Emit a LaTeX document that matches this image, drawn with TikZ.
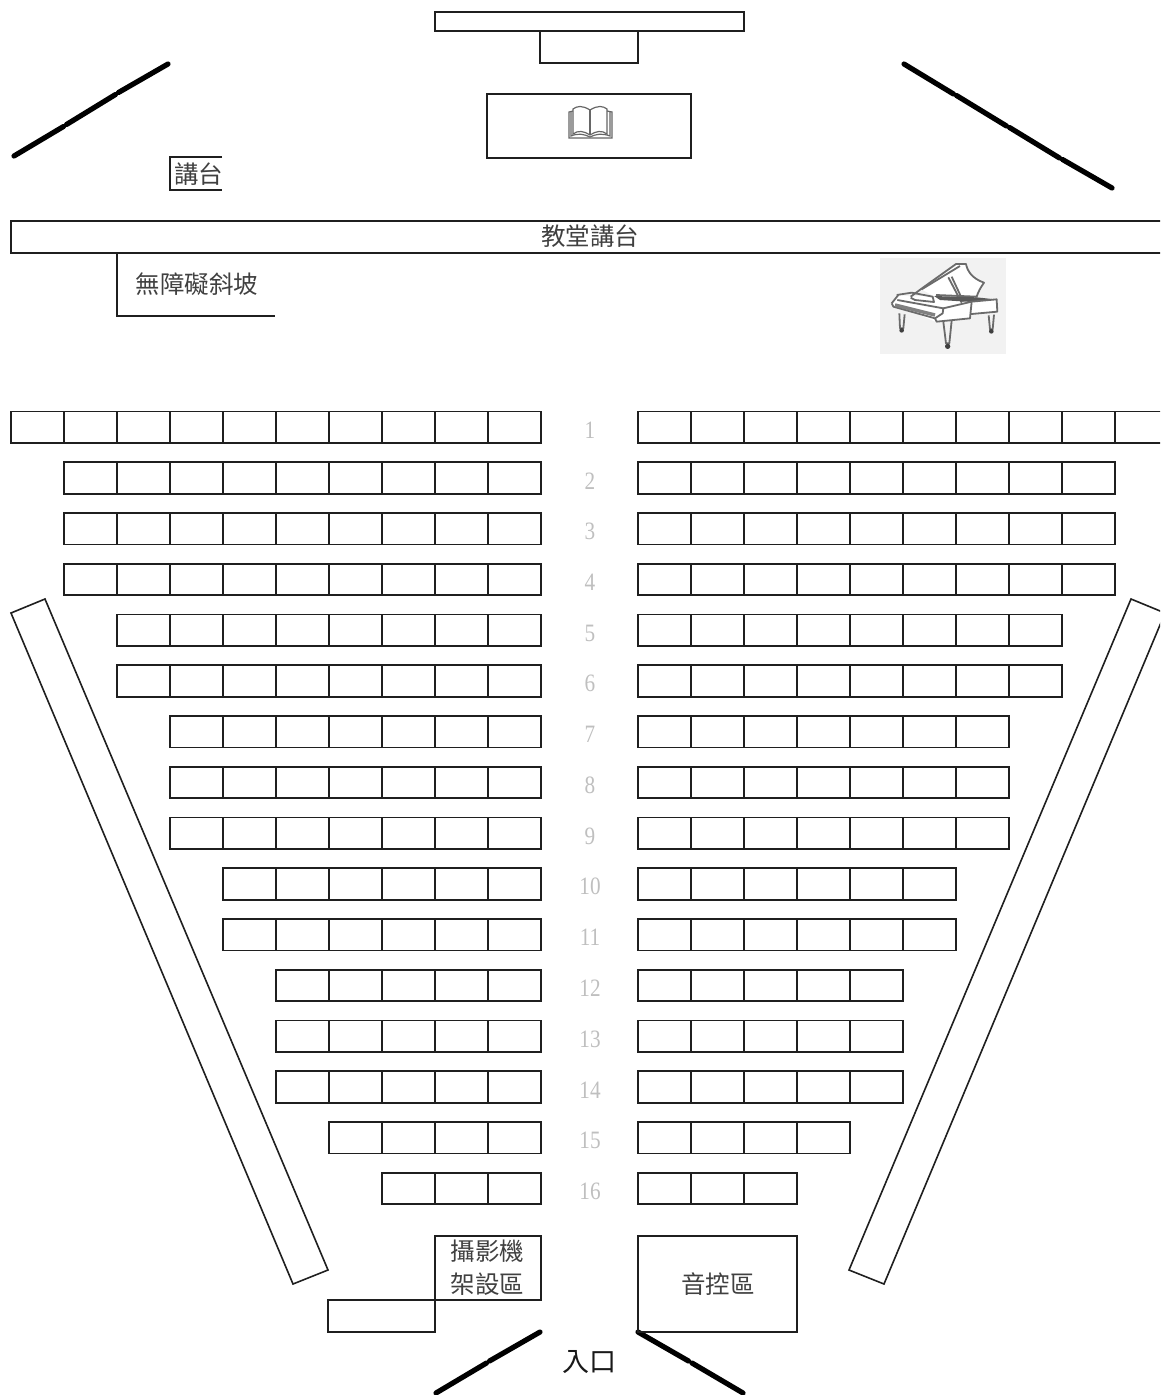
\documentclass[tikz,border=0pt]{standalone}
\usepackage{fontspec}
\setmainfont{Liberation Serif}
\newfontfamily\cjk{Noto Sans CJK TC}[Scale=1.0]
\begin{document}
\begin{tikzpicture}[x=1pt,y=-1pt,
  line join=miter,
  box/.style={draw=black!88,line width=2pt},
  thin box/.style={draw=black!88,line width=1.9pt},
  aisle/.style={draw=black!88,line width=1.6pt},
  wall/.style={draw=black,line width=5.2pt,line cap=round},
  label/.style={font=\cjk\fontsize{24.5}{24.5}\selectfont,text=black!75,inner sep=0pt},
  num/.style={font=\fontsize{25}{25}\selectfont,text=black!25,inner sep=0pt,xscale=.85}]
\useasboundingbox (0,0) rectangle (1160,1395);
\clip (0,0) rectangle (1160,1395);
% altar furniture
\draw[box] (435,12) rectangle (744,31);
\draw[box] (540,31) rectangle (638,63);
\draw[box] (487,94) rectangle (691,158);
% book
\begin{scope}[draw=black!60,line width=1.2pt]
\draw (590,110) .. controls (582,105) and (577,106) .. (573,109) -- (573,134) .. controls (578,130) and (584,131) .. (590,135);
\draw (590,110) .. controls (598,105) and (603,106) .. (607,109) -- (607,134) .. controls (602,130) and (596,131) .. (590,135);
\draw (590,110) -- (590,135);
\draw (573,111) -- (569,112) -- (569,138) -- (612,138) -- (612,112) -- (607,111);
\draw (571,111) -- (571,136) .. controls (578,133) and (584,134) .. (590,137) .. controls (596,134) and (602,133) .. (610,136) -- (610,111);
\end{scope}
% stage walls
\draw[wall] (14,156) -- (63.5,126.5);
\draw[wall] (66.5,124.5) -- (115.5,94.5);
\draw[wall] (118.5,92.5) -- (168,64);
\draw[wall] (904,64) -- (953.5,94);
\draw[wall] (956.5,95.5) -- (1006.5,126);
\draw[wall] (1009.5,127.5) -- (1059.5,158);
\draw[wall] (1062.5,159.5) -- (1112,188);
\draw[wall] (436,1393) -- (486.5,1363);
\draw[wall] (489.5,1361) -- (540,1332);
\draw[wall] (638,1332) -- (688.5,1361);
\draw[wall] (692,1363) -- (743,1393);
% lectern
\draw[box] (222,157) -- (170,157) -- (170,190) -- (222,190);
\node[label] (lectern) at (198.5,174) {講台};
% chancel
\draw[box] (11,221) rectangle (1170,253);
\node[label] (chancel) at (590,236) {教堂講台};
% ramp
\draw[box] (117,253) -- (117,316) -- (275,316);
\node[label] (ramp) at (197,284) {無障礙斜坡};
% piano
\fill[black!5] (880,258) rectangle (1006,354);
\begin{scope}[shift={(860,250)},x=.3333pt,y=-.3333pt,draw=black!58,line width=1.8pt,line join=round]
\fill[white] (95,165) -- (115,135) -- (155,140) -- (215,135) -- (410,148) -- (412,185) -- (335,190) -- (330,205) -- (225,215) -- (180,195) -- cycle;
\fill[white] (185,118) -- (290,42) -- (318,42) -- (330,75) -- (372,98) -- (350,140) -- (215,135) -- cycle;
\draw (152,140) -- (190,112) -- (288,42) -- (318,42) .. controls (322,62) and (335,85) .. (372,98) .. controls (362,112) and (355,125) .. (350,140) -- (228,135);
\draw (185,118) -- (300,48);
\draw (265,82) -- (305,158);
\draw (275,80) -- (310,155);
\fill[black!65] (222,138) -- (350,142) -- (405,148) -- (335,156) -- (240,150) -- cycle;
\draw (110,135) -- (155,128) -- (218,140) -- (222,156) -- (165,150) -- (152,143);
\draw (95,160) -- (115,135);
\draw (95,160) -- (100,170) -- (225,205) -- (248,190) -- (250,175) -- (112,150);
\draw[line width=3.5pt,black!50] (105,165) -- (225,195);
\draw (225,205) -- (230,215) -- (330,205) -- (335,155) -- (410,148) -- (412,185) -- (335,192);
\draw (250,175) -- (335,155);
\draw (118,190) -- (120,235) -- (130,235) -- (134,193);
\fill[black!75] (125,241) circle (7);
\draw (250,215) -- (258,280) -- (268,280) -- (275,212);
\fill[black!75] (263,289) circle (8);
\draw (386,196) -- (390,238) -- (398,238) -- (402,194);
\fill[black!75] (394,244) circle (7);
\end{scope}
% seats
\foreach \n/\c [count=\r from 0] in {1/10,2/9,3/9,4/9,5/8,6/8,7/7,8/7,9/7,10/6,11/6,12/5,13/5,14/5,15/4,16/3}{
  \pgfmathsetmacro{\yt}{411.5+50.75*\r}
  \pgfmathsetmacro{\yb}{\yt+31.5}
  \foreach \i in {1,...,\c}{
    \pgfmathsetmacro{\xa}{541-53*\i}
    \pgfmathsetmacro{\xb}{\xa+53}
    \draw[thin box] (\xa,\yt) rectangle (\xb,\yb);
    \pgfmathsetmacro{\xc}{638+53*(\i-1)}
    \pgfmathsetmacro{\xd}{\xc+53}
    \draw[thin box] (\xc,\yt) rectangle (\xd,\yb);
  }
  \node[num] (row\n) at (590,\yt+18.5) {\n};
}
% side aisles
\draw[aisle] (11,613) -- (45,599) -- (328,1270) -- (293,1284) -- cycle;
\draw[aisle] (1131,599) -- (1165,613) -- (884,1284) -- (849,1270) -- cycle;
% camera and sound
\draw[box] (435,1236) rectangle (541,1300);
\draw[box] (328,1300) rectangle (435,1332);
\node[label] (cam1) at (487.5,1251) {攝影機};
\node[label] (cam2) at (487.5,1284) {架設區};
\draw[box] (638,1236) rectangle (797,1332);
\node[label] (sound) at (718,1284) {音控區};
\node[label,font=\cjk\fontsize{27}{27}\selectfont,text=black!90] (entry) at (589.5,1362) {入口};
\end{tikzpicture}
\end{document}
